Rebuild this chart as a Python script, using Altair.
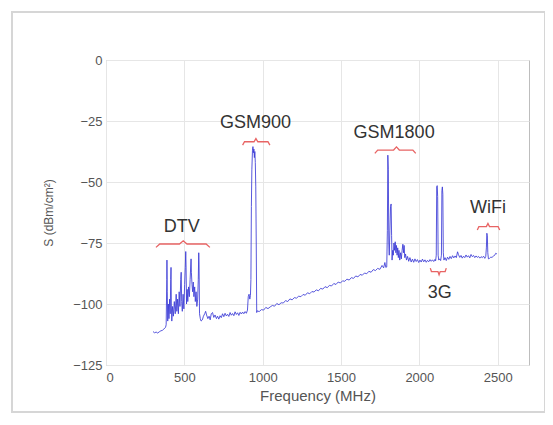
import altair as alt
import pandas as pd

# ---- spectrum data ----
freq = [300, 310, 320, 330, 340, 350, 360, 370, 380,
        384, 388, 389, 391, 394, 398, 402, 406, 410, 413, 415, 417, 420, 425, 430, 436, 442, 448, 452, 457,
        462, 467, 472, 477, 480, 483, 487, 492, 497, 502, 506, 509, 511, 514, 518, 522, 527, 532, 537, 541,
        543, 545, 549, 553, 557, 561, 566, 570, 575, 580, 585, 589, 592, 594, 597, 602, 607,
        615, 622, 630, 636, 642, 650, 658, 665, 672, 680, 688, 696, 705, 712, 720, 728, 736, 744, 752, 760,
        768, 776, 784, 792, 800, 808, 816, 824, 832, 840, 848, 856, 864, 872, 880, 888, 896, 903, 908, 913,
        918, 922, 925, 928, 931, 935, 938, 941, 944, 947, 950, 953, 956, 959, 962,
        965, 978, 992, 1006, 1020, 1034, 1048, 1062, 1076, 1090, 1104, 1118, 1132, 1146, 1160, 1174, 1188,
        1202, 1216, 1230, 1244, 1258, 1272, 1286, 1300, 1314, 1328, 1342, 1356, 1370, 1384, 1398, 1412,
        1426, 1440, 1454, 1468, 1482, 1496, 1510, 1524, 1538, 1552, 1566, 1580, 1594, 1608, 1622, 1636,
        1650, 1664, 1678, 1692, 1706, 1720, 1734, 1748, 1762, 1772, 1780, 1786, 1792,
        1796, 1799, 1802, 1805, 1808, 1812, 1816, 1820, 1823, 1826, 1830, 1834, 1838, 1842, 1846, 1850,
        1854, 1858, 1862, 1866, 1870, 1875, 1880, 1885, 1890, 1895, 1899, 1903, 1907, 1912, 1918, 1925,
        1932, 1940, 1948, 1956, 1964, 1972, 1980, 1988, 1996, 2004, 2012, 2020, 2028, 2036, 2044, 2052,
        2060, 2068, 2076, 2084, 2092, 2100, 2104, 2108, 2111, 2114, 2117, 2120, 2124, 2130, 2136, 2141,
        2144, 2147, 2150, 2153, 2157, 2164, 2172, 2180, 2188, 2196, 2204, 2212, 2220, 2228, 2236, 2244,
        2250, 2258, 2266, 2274, 2282, 2290, 2298, 2306, 2314, 2322, 2330, 2338, 2346, 2354, 2362, 2370,
        2378, 2386, 2394, 2402, 2410, 2418, 2424, 2428, 2431, 2434, 2437, 2441, 2448, 2456, 2464, 2472,
        2480, 2488, 2495]

level = [-111.3, -111.8, -111.5, -111.9, -111.4, -111.0, -110.8, -110.2, -109.6,
         -108.5, -90, -82, -95, -107, -100, -106, -98, -104, -90, -85, -100, -107, -101, -105, -99, -104, -96, -103, -98,
         -104, -95, -101, -90, -87, -99, -103, -96, -102, -92, -85, -78.5, -84, -100, -94, -99, -93, -97, -90, -84,
         -81.5, -87, -92, -95, -91, -97, -93, -99, -95, -101, -98, -90, -79, -84, -104, -106, -107,
         -106.5, -105, -104, -103, -104.5, -106, -105, -106.5, -104, -103.5, -105.5, -104.5, -106, -105, -106.2, -104.8, -105.6, -104, -105.2, -103.8,
         -104.9, -104.2, -105.1, -103.5, -104.6, -103.9, -104.8, -103.2, -104.3, -103.6, -104.7, -103.4, -104.1, -103.3, -104, -103.1, -103.8, -102.5, -97, -96,
         -98, -96.5, -90, -60, -45, -37, -35.5, -38, -36.5, -40, -37.5, -42, -52, -75, -103.5,
         -102.8, -103.1, -102.3, -102.5, -101.4, -101.9, -101.2, -100.6, -100.9, -99.8, -100.3, -99.5, -99.6, -98.6, -99.0, -97.9, -98.3,
         -97.4, -97.6, -96.8, -97.0, -96.1, -96.4, -95.4, -95.8, -94.9, -95.1, -94.2, -94.6, -93.6, -93.9, -92.9, -93.3,
         -92.4, -92.6, -91.6, -92.0, -91.0, -91.4, -90.5, -90.7, -89.8, -90.2, -89.2, -89.5, -88.5, -88.9, -87.9, -88.2,
         -87.3, -87.6, -86.6, -87.0, -85.9, -86.3, -85.4, -85.8, -84.2, -85.2, -83.0, -85.0, -84.8,
         -70, -39, -45, -75, -80, -70, -60, -59, -72, -82, -78, -80, -75, -78, -74.5, -79,
         -76, -80, -77, -81, -78, -82, -79, -81.5, -78, -75.5, -79, -76, -81, -79.5, -82, -80.5,
         -82.5, -81, -82.8, -81.6, -82.9, -81.5, -82.6, -81.8, -83, -82, -82.8, -81.6, -82.7, -81.9, -82.9, -82.1,
         -82.7, -81.8, -82.5, -81.9, -82.6, -81.7, -82.3, -80, -52, -51.5, -56, -80, -82, -81.5, -82.2, -80,
         -53.5, -52, -55, -79, -82, -81, -82.2, -80.8, -81.7, -80.5, -81.4, -80.2, -81.1, -80.3, -81, -78.6,
         -79.8, -80.9, -80.1, -81.2, -80.4, -81, -79.9, -80.8, -80.2, -81.1, -79.7, -80.6, -80.1, -81, -80.3, -80.9,
         -80.5, -81.2, -80.6, -81, -80.4, -81.3, -80.5, -77, -71, -72, -79, -81.5, -81.3, -80.8, -80.9, -80.4,
         -80.1, -79.2, -79.5]

# ---- band annotations ----
band_names = ["DTV", "GSM900", "GSM1800", "3G", "WiFi"]
brace_start = [319, 872, 1716, 2070, 2370]
brace_end = [663, 1046, 1977, 2172, 2513]
brace_mid = [493, 957, 1854, 2126, 2438]
brace_level = [-75.4, -33.5, -36.9, -86.7, -68.3]
brace_dir = [1, 1, 1, -1, 1]
label_x = [483, 955, 1839, 2130, 2438]
label_y = [-68.4, -26.0, -30.0, -95.6, -60.8]

x_ticks = [0, 500, 1000, 1500, 2000, 2500]
y_ticks = [0, -25, -50, -75, -100, -125]

spec = pd.DataFrame({"f": freq, "s": level})

rows = []
for i, name in enumerate(band_names):
    x0, x1, xc, yl, d = brace_start[i], brace_end[i], brace_mid[i], brace_level[i], brace_dir[i]
    w = 0.07 * (x1 - x0)
    pts = [(x0, yl - 1.4 * d), (x0 + w, yl), (xc - w, yl), (xc, yl + 1.3 * d),
           (xc + w, yl), (x1 - w, yl), (x1, yl - 1.4 * d)]
    for k, (px, py) in enumerate(pts):
        rows.append({"band": name, "order": k, "f": px, "s": py})
braces = pd.DataFrame(rows)
labels = pd.DataFrame({"band": band_names, "f": label_x, "s": label_y})

xscale = alt.Scale(domain=[0, 2700], nice=False, zero=False)
yscale = alt.Scale(domain=[-125, 0], nice=False, zero=False)

xaxis = alt.Axis(values=x_ticks, format="d", title="Frequency (MHz)", grid=True, ticks=False,
                 labelFontSize=13, labelColor="#555", labelPadding=6,
                 titleFontSize=15, titleColor="#555", titleFontWeight="normal", titlePadding=4,
                 labelFont="Liberation Sans", titleFont="Liberation Sans")
yaxis = alt.Axis(values=y_ticks, format="d", title="S (dBm/cm²)", grid=True, ticks=False,
                 labelFontSize=13, labelColor="#555", labelPadding=4,
                 titleFontSize=12, titleColor="#555", titleFontWeight="normal", titlePadding=17,
                 labelFont="Liberation Sans", titleFont="Liberation Sans")

frame = alt.Chart(pd.DataFrame({"a": [0]})).mark_rect(
    filled=False, stroke="#d6d6d6", strokeWidth=2, clip=False
).encode(x=alt.value(-94), x2=alt.value(439), y=alt.value(-48), y2=alt.value(352))

line = alt.Chart(spec).mark_line(color="#3b3bd6", strokeWidth=1, opacity=0.85).encode(
    x=alt.X("f:Q", scale=xscale, axis=xaxis),
    y=alt.Y("s:Q", scale=yscale, axis=yaxis),
)

brace = alt.Chart(braces).mark_line(color="#e86464", strokeWidth=1.3).encode(
    x=alt.X("f:Q", scale=xscale),
    y=alt.Y("s:Q", scale=yscale),
    detail="band:N",
    order="order:Q",
)

text = alt.Chart(labels).mark_text(
    font="Liberation Sans", fontSize=18, color="#333", baseline="middle", align="center"
).encode(
    x=alt.X("f:Q", scale=xscale),
    y=alt.Y("s:Q", scale=yscale),
    text="band:N",
)

chart = alt.layer(frame, line, brace, text).properties(
    width=423, height=305,
    autosize=alt.AutoSizeParams(type="none"),
    padding={"left": 98, "top": 52, "right": 16, "bottom": 52},
    background="white",
).configure_view(stroke="#bdbdbd", strokeWidth=1).configure_axis(
    gridColor="#e6e6e6", domain=False
)

chart.save("out.html", embed_options={"renderer": "svg", "actions": False})
